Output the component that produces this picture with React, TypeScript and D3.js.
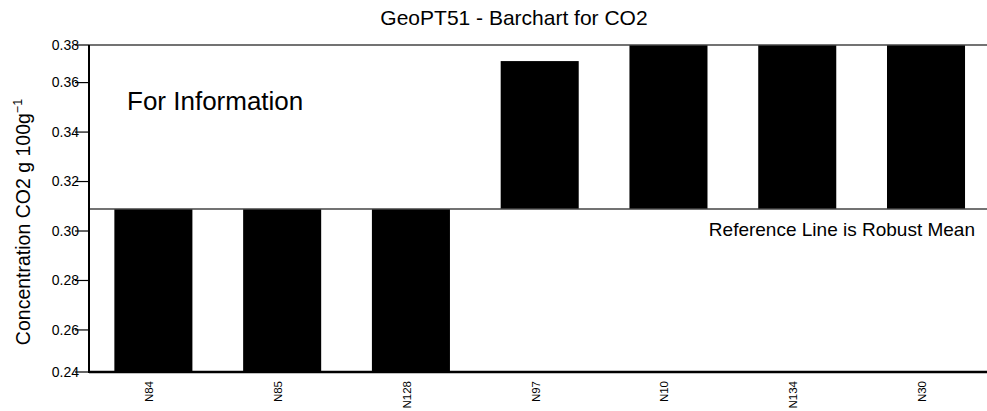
import React from "react";
import * as d3 from "d3";

const categories = ["N84", "N85", "N128", "N97", "N10", "N134", "N30"];
const values = [0.2, 0.21, 0.23, 0.3687, 0.39, 0.41, 0.45];
const referenceValue = 0.3089;
const yDomain = [0.243, 0.3752];
const tickValues = [0.24, 0.26, 0.28, 0.3, 0.32, 0.34, 0.36, 0.38];
const tickLabels = ["0.24", "0.26", "0.28", "0.30", "0.32", "0.34", "0.36", "0.38"];

const W = 987;
const H = 411;
const left = 89;
const top = 45;
const bottom = 372;
const right = 990.4;
const font = "'Liberation Sans', Arial, sans-serif";

export default function App() {
  const x = d3
    .scaleBand<string>()
    .domain(categories)
    .range([left, right])
    .paddingInner(0.394)
    .paddingOuter(0.197);
  const y = d3.scaleLinear().domain(yDomain).range([bottom, top]).clamp(true);
  const yRef = y(referenceValue);

  return (
    <svg
      width={W}
      height={H}
      style={{ position: "absolute", left: 0, top: 0, display: "block", background: "#fff" }}
      fontFamily={font}
    >
      <text x={514} y={25} textAnchor="middle" fontSize={21} fill="#000">
        GeoPT51 - Barchart for CO2
      </text>
      {categories.map((c, i) => {
        const v = values[i];
        const yv = y(v);
        const y0 = Math.min(yv, yRef);
        const h = Math.abs(yv - yRef);
        return <rect key={c} x={x(c)} y={y0} width={x.bandwidth()} height={h} fill="#000" />;
      })}
      <line x1={left} x2={W} y1={top} y2={top} stroke="#444" strokeWidth={1.5} />
      <line x1={left} x2={W} y1={yRef} y2={yRef} stroke="#444" strokeWidth={1.5} />
      <line x1={left} x2={W} y1={bottom} y2={bottom} stroke="#000" strokeWidth={2.5} />
      <line x1={left} x2={left} y1={top} y2={bottom + 1} stroke="#000" strokeWidth={2} />
      {tickValues.map((t, i) => (
        <g key={t}>
          <line x1={left - 14} x2={left} y1={y(t)} y2={y(t)} stroke="#000" strokeWidth={1.2} />
          <text x={79} y={y(t)} dy="0.35em" textAnchor="end" fontSize={14} fill="#000">
            {tickLabels[i]}
          </text>
        </g>
      ))}
      {categories.map((c) => (
        <text
          key={c}
          transform={`translate(${(x(c) as number) + x.bandwidth() / 2},381) rotate(-90)`}
          textAnchor="end"
          fontSize={11.5}
          fill="#000"
        >
          {c}
        </text>
      ))}
      <text
        transform={`translate(30,222) rotate(-90)`}
        textAnchor="middle"
        fontSize={19.5}
        fill="#000"
      >
        Concentration CO2 g 100g<tspan fontSize={12.5} dy={-8}>−1</tspan>
      </text>
      <text x={127} y={110} fontSize={26} fill="#000">
        For Information
      </text>
      <text x={975} y={236} textAnchor="end" fontSize={19} fill="#000">
        Reference Line is Robust Mean
      </text>
    </svg>
  );
}
